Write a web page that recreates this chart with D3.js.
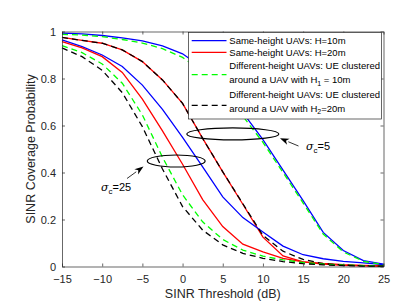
<!DOCTYPE html>
<html>
<head>
<meta charset="utf-8">
<script src="https://cdn.jsdelivr.net/npm/d3@7"></script>
<style>
  html, body { margin: 0; padding: 0; background: #fff; }
  svg { display: block; font-family: "Liberation Sans", Arial, sans-serif; }
</style>
</head>
<body>
<svg id="chart" width="415" height="305"></svg>
<script>
// ---- data ----
const sinrThreshold = [-15, -12.5, -10, -7.5, -5, -2.5, 0, 2.5, 5, 7.5, 10, 12.5, 15, 17.5, 20, 22.5, 25];

// sigma_c = 5
const sameH10_s5   = [0.993, 0.990, 0.983, 0.973, 0.960, 0.939, 0.905, 0.845, 0.760, 0.655, 0.540, 0.410, 0.280, 0.145, 0.068, 0.025, 0.010];
const sameH20_s5   = [0.975, 0.962, 0.950, 0.922, 0.872, 0.794, 0.694, 0.545, 0.403, 0.265, 0.125, 0.045, 0.020, 0.010, 0.005, 0.003, 0.001];
const diffH1_s5    = [0.988, 0.985, 0.978, 0.966, 0.951, 0.927, 0.890, 0.830, 0.745, 0.640, 0.528, 0.400, 0.270, 0.138, 0.062, 0.022, 0.008];
const diffH2_s5    = [0.975, 0.962, 0.950, 0.922, 0.872, 0.794, 0.694, 0.545, 0.403, 0.267, 0.132, 0.065, 0.030, 0.012, 0.006, 0.003, 0.001];

// sigma_c = 25
const sameH10_s25  = [0.964, 0.936, 0.900, 0.851, 0.772, 0.669, 0.549, 0.424, 0.296, 0.208, 0.147, 0.087, 0.050, 0.033, 0.022, 0.015, 0.008];
const sameH20_s25  = [0.957, 0.930, 0.893, 0.826, 0.712, 0.577, 0.435, 0.285, 0.170, 0.095, 0.062, 0.035, 0.020, 0.013, 0.008, 0.005, 0.003];
const diffH1_s25   = [0.940, 0.910, 0.862, 0.780, 0.645, 0.465, 0.305, 0.190, 0.115, 0.070, 0.044, 0.028, 0.017, 0.010, 0.006, 0.004, 0.002];
const diffH2_s25   = [0.930, 0.893, 0.835, 0.740, 0.595, 0.415, 0.255, 0.155, 0.092, 0.056, 0.035, 0.021, 0.012, 0.007, 0.004, 0.002, 0.001];

const xTicks = [-15, -10, -5, 0, 5, 10, 15, 20, 25];
const yTicks = [0, 0.2, 0.4, 0.6, 0.8, 1];
const xLabel = "SINR Threshold (dB)";
const yLabel = "SINR Coverage Probability";

// ---- layout ----
const svg = d3.select("#chart");
const plotL = 62, plotR = 383.5, plotT = 31.5, plotB = 266.5;
const x = d3.scaleLinear().domain([-15, 25]).range([plotL, plotR]);
const y = d3.scaleLinear().domain([0, 1]).range([plotB, plotT]);
const axisColor = "#262626";

// ---- series ----
const series = [
  {vals: sameH10_s5,  color: "#0000ff", dash: null},
  {vals: sameH20_s5,  color: "#ff0000", dash: null},
  {vals: sameH10_s25, color: "#0000ff", dash: null},
  {vals: sameH20_s25, color: "#ff0000", dash: null},
  {vals: diffH1_s5,   color: "#00ff00", dash: "6,4"},
  {vals: diffH2_s5,   color: "#000000", dash: "6,4"},
  {vals: diffH1_s25,  color: "#00ff00", dash: "6,4"},
  {vals: diffH2_s25,  color: "#000000", dash: "6,4"}
];
const line = d3.line().x((d, i) => x(sinrThreshold[i])).y(d => y(d));
svg.append("g").selectAll("path").data(series).join("path")
  .attr("d", d => line(d.vals))
  .attr("fill", "none")
  .attr("stroke", d => d.color)
  .attr("stroke-width", 1.3)
  .attr("stroke-dasharray", d => d.dash);

// ---- axes (box, inward ticks) ----
function styleAxis(g) {
  g.select(".domain").attr("stroke", axisColor).attr("stroke-width", 0.7);
  g.selectAll(".tick line").attr("stroke", axisColor).attr("stroke-width", 0.7);
  g.selectAll("text").attr("fill", axisColor).attr("font-size", 11)
    .attr("font-family", "'Liberation Sans', Arial, sans-serif");
}
svg.append("g").attr("transform", `translate(0,${plotB})`)
  .call(d3.axisBottom(x).tickValues(xTicks).tickSizeInner(-3).tickSizeOuter(0).tickPadding(8.5).tickFormat(d3.format("d")))
  .call(styleAxis);
svg.append("g").attr("transform", `translate(0,${plotT})`)
  .call(d3.axisTop(x).tickValues(xTicks).tickSizeInner(-3).tickSizeOuter(0).tickFormat(""))
  .call(styleAxis);
svg.append("g").attr("transform", `translate(${plotL},0)`)
  .call(d3.axisLeft(y).tickValues(yTicks).tickSizeInner(-3).tickSizeOuter(0).tickPadding(6).tickFormat(d => d === 0 || d === 1 ? String(d) : d.toFixed(1)))
  .call(styleAxis);
svg.append("g").attr("transform", `translate(${plotR},0)`)
  .call(d3.axisRight(y).tickValues(yTicks).tickSizeInner(-3).tickSizeOuter(0).tickFormat(""))
  .call(styleAxis);
svg.selectAll(".domain").attr("fill", "none");

// axis labels
svg.append("text").attr("x", (plotL + plotR) / 2).attr("y", 298)
  .attr("text-anchor", "middle").attr("font-size", 12.5).attr("fill", axisColor).text(xLabel);
svg.append("text").attr("transform", `translate(35,${(plotT + plotB) / 2}) rotate(-90)`)
  .attr("text-anchor", "middle").attr("font-size", 12.5).attr("fill", axisColor).text(yLabel);

// ---- annotations: ellipses + arrows ----
const ellipses = [
  {cx: 6.25, cy: 0.564, rx: 5.73, ry: 0.0255},
  {cx: -0.79, cy: 0.449, rx: 3.6, ry: 0.0255}
];
svg.append("g").selectAll("ellipse").data(ellipses).join("ellipse")
  .attr("cx", d => x(d.cx)).attr("cy", d => y(d.cy))
  .attr("rx", d => x(d.rx) - x(0)).attr("ry", d => y(0) - y(d.ry))
  .attr("fill", "none").attr("stroke", "#000").attr("stroke-width", 1.2);

function arrow(x1, y1, x2, y2) {
  const dx = x2 - x1, dy = y2 - y1, L = Math.hypot(dx, dy);
  const ux = dx / L, uy = dy / L, hl = 9, hw = 3.2;
  const bx = x2 - ux * hl, by = y2 - uy * hl;
  svg.append("line").attr("x1", x1).attr("y1", y1).attr("x2", bx).attr("y2", by)
    .attr("stroke", "#000").attr("stroke-width", 0.8);
  svg.append("path")
    .attr("d", `M${x2},${y2} L${bx - uy * hw},${by + ux * hw} L${bx + ux * 2.5},${by + uy * 2.5} L${bx + uy * hw},${by - ux * hw} Z`)
    .attr("fill", "#000");
}
arrow(127, 178.5, 143.5, 166.5);
arrow(298.5, 146, 280, 138.3);

function sigmaLabel(tx, ty, val) {
  const t = svg.append("text").attr("x", tx).attr("y", ty).attr("font-size", 11).attr("fill", "#000");
  t.append("tspan").attr("font-style", "italic").attr("font-family", "'DejaVu Serif', serif").text("σ");
  t.append("tspan").attr("font-size", 8).attr("dy", 3).text("c");
  t.append("tspan").attr("dy", -3).text("=" + val);
}
sigmaLabel(101, 191, "25");
sigmaLabel(306, 150, "5");

// ---- legend ----
const legend = svg.append("g");
legend.append("rect").attr("x", 188.5).attr("y", 32.5).attr("width", 193).attr("height", 86.5)
  .attr("fill", "#fff").attr("stroke", axisColor).attr("stroke-width", 0.7);
const legItems = [
  {color: "#0000ff", dash: null,  ly: 40.7,  lines: [["Same-height UAVs: H=10m"]], ty: [44.2]},
  {color: "#ff0000", dash: null,  ly: 52.3,  lines: [["Same-height UAVs: H=20m"]], ty: [55.8]},
  {color: "#00ff00", dash: "6,4", ly: 74.7,  lines: [["Different-height UAVs: UE clustered"], ["around a UAV with H", "1", " = 10m"]], ty: [69.3, 83]},
  {color: "#000000", dash: "6,4", ly: 105.3, lines: [["Different-height UAVs: UE clustered"], ["around a UAV with H", "2", "=20m"]], ty: [98.3, 111.8]}
];
legItems.forEach(it => {
  legend.append("line").attr("x1", 191.7).attr("x2", 226.5).attr("y1", it.ly).attr("y2", it.ly)
    .attr("stroke", it.color).attr("stroke-width", 1.3).attr("stroke-dasharray", it.dash);
  it.lines.forEach((parts, k) => {
    const t = legend.append("text").attr("x", 229.3).attr("y", it.ty[k]).attr("font-size", 9.5).attr("fill", "#000");
    t.append("tspan").text(parts[0]);
    if (parts.length > 1) {
      t.append("tspan").attr("font-size", 7).attr("dy", 2.5).text(parts[1]);
      t.append("tspan").attr("dy", -2.5).text(parts[2]);
    }
  });
});
</script>
</body>
</html>
